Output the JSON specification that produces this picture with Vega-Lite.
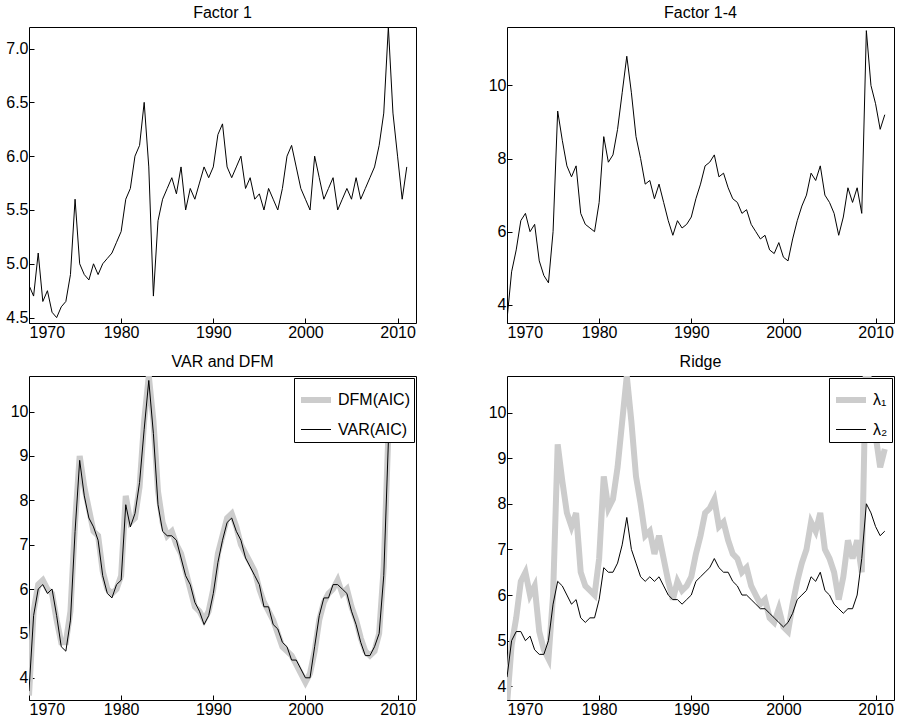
{
  "$schema": "https://vega.github.io/schema/vega-lite/v6.json",
  "background": "white",
  "padding": {"left": 5, "top": 4, "right": 10, "bottom": 5},
  "config": {
    "font": "Liberation Sans",
    "view": {"stroke": "black", "strokeWidth": 1},
    "axis": {"grid": false, "title": null, "domain": false, "tickColor": "black", "tickSize": -5, "labelColor": "black", "labelFontSize": 16, "labelPadding": 6},
    "title": {"fontSize": 16, "fontWeight": "normal", "color": "black", "offset": 6},
    "legend": {"labelFontSize": 16, "labelColor": "black", "strokeColor": "black", "fillColor": "white", "padding": 4, "symbolSize": 900, "rowPadding": 2}
  },
  "spacing": {"row": 12, "column": 70},
  "resolve": {
    "scale": {"color": "independent", "strokeWidth": "independent", "x": "independent", "y": "independent"},
    "legend": {"color": "independent", "strokeWidth": "independent"}
  },
  "data": {"values": [
    {"t":1970,"f1":4.8,"f14":3.6,"dfm":3.6,"var":3.7,"l2":4.2},
    {"t":1970.5,"f1":4.7,"f14":4.9,"dfm":5.5,"var":5.4,"l2":5.0},
    {"t":1971,"f1":5.1,"f14":5.5,"dfm":6.1,"var":6.0,"l2":5.2},
    {"t":1971.5,"f1":4.65,"f14":6.3,"dfm":6.2,"var":6.1,"l2":5.2},
    {"t":1972,"f1":4.75,"f14":6.5,"dfm":6.0,"var":5.9,"l2":5.0},
    {"t":1972.5,"f1":4.55,"f14":6.0,"dfm":5.9,"var":6.0,"l2":5.1},
    {"t":1973,"f1":4.5,"f14":6.2,"dfm":5.3,"var":5.4,"l2":4.8},
    {"t":1973.5,"f1":4.6,"f14":5.2,"dfm":4.8,"var":4.7,"l2":4.7},
    {"t":1974,"f1":4.65,"f14":4.8,"dfm":4.8,"var":4.6,"l2":4.7},
    {"t":1974.5,"f1":4.9,"f14":4.6,"dfm":5.5,"var":5.3,"l2":5.0},
    {"t":1975,"f1":5.6,"f14":6.0,"dfm":7.5,"var":7.3,"l2":5.8},
    {"t":1975.5,"f1":5.0,"f14":9.3,"dfm":9.0,"var":8.9,"l2":6.3},
    {"t":1976,"f1":4.9,"f14":8.5,"dfm":8.3,"var":8.1,"l2":6.2},
    {"t":1976.5,"f1":4.85,"f14":7.8,"dfm":7.8,"var":7.6,"l2":6.0},
    {"t":1977,"f1":5.0,"f14":7.5,"dfm":7.3,"var":7.4,"l2":5.8},
    {"t":1977.5,"f1":4.9,"f14":7.8,"dfm":7.2,"var":7.1,"l2":5.9},
    {"t":1978,"f1":5.0,"f14":6.5,"dfm":6.4,"var":6.3,"l2":5.5},
    {"t":1978.5,"f1":5.05,"f14":6.2,"dfm":6.0,"var":5.9,"l2":5.4},
    {"t":1979,"f1":5.1,"f14":6.1,"dfm":5.9,"var":5.8,"l2":5.5},
    {"t":1979.5,"f1":5.2,"f14":6.0,"dfm":6.0,"var":6.1,"l2":5.5},
    {"t":1980,"f1":5.3,"f14":6.8,"dfm":6.3,"var":6.2,"l2":5.9},
    {"t":1980.5,"f1":5.6,"f14":8.6,"dfm":8.1,"var":7.9,"l2":6.6},
    {"t":1981,"f1":5.7,"f14":7.9,"dfm":7.5,"var":7.4,"l2":6.5},
    {"t":1981.5,"f1":6.0,"f14":8.1,"dfm":7.6,"var":7.7,"l2":6.5},
    {"t":1982,"f1":6.1,"f14":8.8,"dfm":8.3,"var":8.4,"l2":6.7},
    {"t":1982.5,"f1":6.5,"f14":9.8,"dfm":9.8,"var":9.6,"l2":7.1},
    {"t":1983,"f1":5.9,"f14":10.8,"dfm":10.8,"var":10.7,"l2":7.7},
    {"t":1983.5,"f1":4.7,"f14":9.8,"dfm":9.8,"var":9.5,"l2":7.0},
    {"t":1984,"f1":5.4,"f14":8.6,"dfm":8.2,"var":7.9,"l2":6.7},
    {"t":1984.5,"f1":5.6,"f14":8.0,"dfm":7.5,"var":7.3,"l2":6.4},
    {"t":1985,"f1":5.7,"f14":7.3,"dfm":7.2,"var":7.2,"l2":6.3},
    {"t":1985.5,"f1":5.8,"f14":7.4,"dfm":7.3,"var":7.2,"l2":6.4},
    {"t":1986,"f1":5.65,"f14":6.9,"dfm":7.0,"var":7.1,"l2":6.3},
    {"t":1986.5,"f1":5.9,"f14":7.3,"dfm":6.8,"var":6.7,"l2":6.4},
    {"t":1987,"f1":5.5,"f14":6.8,"dfm":6.4,"var":6.3,"l2":6.2},
    {"t":1987.5,"f1":5.7,"f14":6.3,"dfm":6.0,"var":6.1,"l2":6.0},
    {"t":1988,"f1":5.6,"f14":5.9,"dfm":5.6,"var":5.7,"l2":5.9},
    {"t":1988.5,"f1":5.75,"f14":6.3,"dfm":5.5,"var":5.5,"l2":5.9},
    {"t":1989,"f1":5.9,"f14":6.1,"dfm":5.3,"var":5.2,"l2":5.8},
    {"t":1989.5,"f1":5.8,"f14":6.2,"dfm":5.5,"var":5.4,"l2":5.9},
    {"t":1990,"f1":5.9,"f14":6.4,"dfm":6.0,"var":5.9,"l2":6.0},
    {"t":1990.5,"f1":6.2,"f14":6.9,"dfm":6.8,"var":6.6,"l2":6.3},
    {"t":1991,"f1":6.3,"f14":7.3,"dfm":7.2,"var":7.1,"l2":6.4},
    {"t":1991.5,"f1":5.9,"f14":7.8,"dfm":7.6,"var":7.5,"l2":6.5},
    {"t":1992,"f1":5.8,"f14":7.9,"dfm":7.7,"var":7.6,"l2":6.6},
    {"t":1992.5,"f1":5.9,"f14":8.1,"dfm":7.4,"var":7.3,"l2":6.8},
    {"t":1993,"f1":6.0,"f14":7.5,"dfm":7.0,"var":7.1,"l2":6.6},
    {"t":1993.5,"f1":5.7,"f14":7.6,"dfm":6.8,"var":6.7,"l2":6.5},
    {"t":1994,"f1":5.8,"f14":7.2,"dfm":6.6,"var":6.5,"l2":6.5},
    {"t":1994.5,"f1":5.6,"f14":6.9,"dfm":6.4,"var":6.3,"l2":6.3},
    {"t":1995,"f1":5.65,"f14":6.8,"dfm":6.0,"var":6.1,"l2":6.2},
    {"t":1995.5,"f1":5.5,"f14":6.5,"dfm":5.7,"var":5.6,"l2":6.0},
    {"t":1996,"f1":5.7,"f14":6.6,"dfm":5.5,"var":5.6,"l2":6.0},
    {"t":1996.5,"f1":5.6,"f14":6.2,"dfm":5.3,"var":5.2,"l2":5.9},
    {"t":1997,"f1":5.5,"f14":6.0,"dfm":5.0,"var":5.1,"l2":5.8},
    {"t":1997.5,"f1":5.7,"f14":5.8,"dfm":4.7,"var":4.8,"l2":5.7},
    {"t":1998,"f1":6.0,"f14":5.9,"dfm":4.6,"var":4.7,"l2":5.7},
    {"t":1998.5,"f1":6.1,"f14":5.5,"dfm":4.5,"var":4.4,"l2":5.6},
    {"t":1999,"f1":5.9,"f14":5.4,"dfm":4.3,"var":4.4,"l2":5.5},
    {"t":1999.5,"f1":5.7,"f14":5.7,"dfm":4.1,"var":4.2,"l2":5.4},
    {"t":2000,"f1":5.6,"f14":5.3,"dfm":3.9,"var":4.0,"l2":5.3},
    {"t":2000.5,"f1":5.5,"f14":5.2,"dfm":4.1,"var":4.0,"l2":5.4},
    {"t":2001,"f1":6.0,"f14":5.8,"dfm":4.6,"var":4.7,"l2":5.6},
    {"t":2001.5,"f1":5.8,"f14":6.3,"dfm":5.3,"var":5.4,"l2":5.9},
    {"t":2002,"f1":5.6,"f14":6.7,"dfm":5.7,"var":5.8,"l2":6.0},
    {"t":2002.5,"f1":5.7,"f14":7.0,"dfm":5.9,"var":5.8,"l2":6.1},
    {"t":2003,"f1":5.8,"f14":7.6,"dfm":6.0,"var":6.1,"l2":6.4},
    {"t":2003.5,"f1":5.5,"f14":7.4,"dfm":6.2,"var":6.1,"l2":6.3},
    {"t":2004,"f1":5.6,"f14":7.8,"dfm":5.9,"var":6.0,"l2":6.5},
    {"t":2004.5,"f1":5.7,"f14":7.0,"dfm":6.0,"var":5.9,"l2":6.1},
    {"t":2005,"f1":5.6,"f14":6.8,"dfm":5.6,"var":5.5,"l2":6.0},
    {"t":2005.5,"f1":5.8,"f14":6.5,"dfm":5.3,"var":5.2,"l2":5.8},
    {"t":2006,"f1":5.6,"f14":5.9,"dfm":4.9,"var":4.8,"l2":5.7},
    {"t":2006.5,"f1":5.7,"f14":6.4,"dfm":4.6,"var":4.5,"l2":5.6},
    {"t":2007,"f1":5.8,"f14":7.2,"dfm":4.5,"var":4.5,"l2":5.7},
    {"t":2007.5,"f1":5.9,"f14":6.8,"dfm":4.6,"var":4.7,"l2":5.7},
    {"t":2008,"f1":6.1,"f14":7.2,"dfm":5.0,"var":5.0,"l2":6.0},
    {"t":2008.5,"f1":6.4,"f14":6.5,"dfm":6.5,"var":6.3,"l2":6.8},
    {"t":2009,"f1":7.2,"f14":11.5,"dfm":9.5,"var":9.3,"l2":8.0},
    {"t":2009.5,"f1":6.4,"f14":10.0,"dfm":10.0,"var":9.8,"l2":7.8},
    {"t":2010,"f1":6.0,"f14":9.5,"dfm":9.6,"var":9.5,"l2":7.5},
    {"t":2010.5,"f1":5.6,"f14":8.8,"dfm":9.4,"var":9.3,"l2":7.3},
    {"t":2011,"f1":5.9,"f14":9.2,"dfm":9.5,"var":9.4,"l2":7.4}
  ]},
  "columns": 2,
  "concat": [
    {
      "title": "Factor 1", "width": 387, "height": 296,
      "mark": {"type": "line", "color": "black", "strokeWidth": 1, "clip": true},
      "encoding": {
        "x": {"field": "t", "type": "quantitative", "scale": {"domain": [1970, 2012], "nice": false}, "axis": {"values": [1970, 1980, 1990, 2000, 2010], "format": "d"}},
        "y": {"field": "f1", "type": "quantitative", "scale": {"domain": [4.45, 7.2], "nice": false, "zero": false}, "axis": {"values": [4.5, 5, 5.5, 6, 6.5, 7]}}
      }
    },
    {
      "title": "Factor 1-4", "width": 387, "height": 296,
      "mark": {"type": "line", "color": "black", "strokeWidth": 1, "clip": true},
      "encoding": {
        "x": {"field": "t", "type": "quantitative", "scale": {"domain": [1970, 2012], "nice": false}, "axis": {"values": [1970, 1980, 1990, 2000, 2010], "format": "d"}},
        "y": {"field": "f14", "type": "quantitative", "scale": {"domain": [3.5, 11.6], "nice": false, "zero": false}, "axis": {"values": [4, 6, 8, 10]}}
      }
    },
    {
      "title": "VAR and DFM", "width": 387, "height": 324,
      "transform": [{"fold": ["dfm", "var"], "as": ["s", "v"]}],
      "mark": {"type": "line", "clip": true},
      "encoding": {
        "x": {"field": "t", "type": "quantitative", "scale": {"domain": [1970, 2012], "nice": false}, "axis": {"values": [1970, 1980, 1990, 2000, 2010], "format": "d"}},
        "y": {"field": "v", "type": "quantitative", "scale": {"domain": [3.5, 10.8], "nice": false, "zero": false}, "axis": {"values": [4, 5, 6, 7, 8, 9, 10]}},
        "color": {"field": "s", "type": "nominal", "scale": {"domain": ["dfm", "var"], "range": ["#cccccc", "black"]}, "legend": {"title": null, "orient": "top-right", "offset": 2, "labelExpr": "datum.label == 'dfm' ? 'DFM(AIC)' : 'VAR(AIC)'"}},
        "strokeWidth": {"field": "s", "type": "nominal", "scale": {"domain": ["dfm", "var"], "range": [6, 1]}, "legend": {"title": null, "orient": "top-right", "offset": 2, "labelExpr": "datum.label == 'dfm' ? 'DFM(AIC)' : 'VAR(AIC)'"}}
      }
    },
    {
      "title": "Ridge", "width": 387, "height": 324,
      "transform": [{"fold": ["f14", "l2"], "as": ["s", "v"]}],
      "mark": {"type": "line", "clip": true},
      "encoding": {
        "x": {"field": "t", "type": "quantitative", "scale": {"domain": [1970, 2012], "nice": false}, "axis": {"values": [1970, 1980, 1990, 2000, 2010], "format": "d"}},
        "y": {"field": "v", "type": "quantitative", "scale": {"domain": [3.7, 10.8], "nice": false, "zero": false}, "axis": {"values": [4, 5, 6, 7, 8, 9, 10]}},
        "color": {"field": "s", "type": "nominal", "scale": {"domain": ["f14", "l2"], "range": ["#cccccc", "black"]}, "legend": {"title": null, "orient": "top-right", "offset": 2, "labelExpr": "datum.label == 'f14' ? 'λ₁' : 'λ₂'"}},
        "strokeWidth": {"field": "s", "type": "nominal", "scale": {"domain": ["f14", "l2"], "range": [6, 1]}, "legend": {"title": null, "orient": "top-right", "offset": 2, "labelExpr": "datum.label == 'f14' ? 'λ₁' : 'λ₂'"}}
      }
    }
  ]
}
